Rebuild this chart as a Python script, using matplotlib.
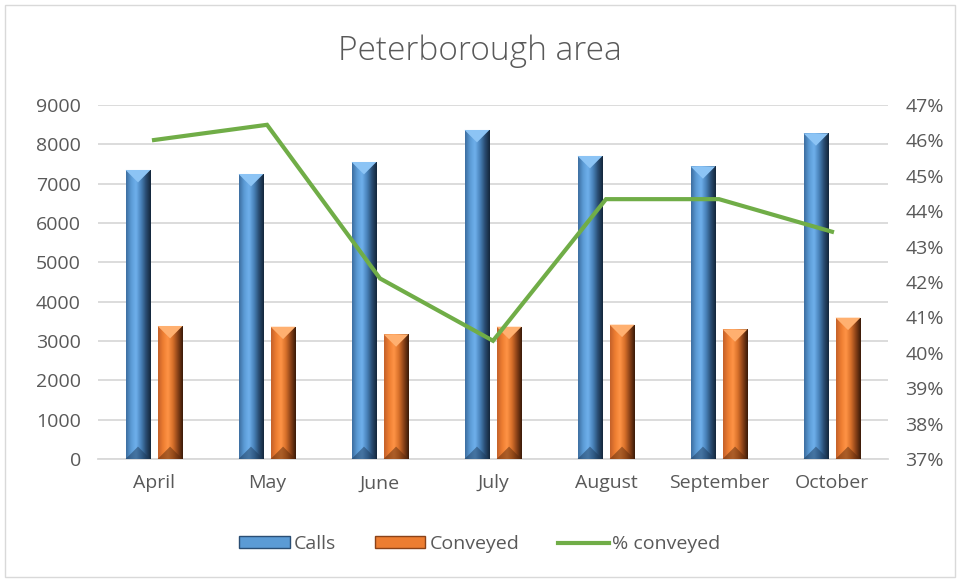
import numpy as np
import matplotlib
matplotlib.use("Agg")
import matplotlib.pyplot as plt
from matplotlib.patches import Polygon, Rectangle
from matplotlib.colors import LinearSegmentedColormap
from matplotlib.ticker import FuncFormatter

plt.rcParams['font.family'] = ['Open Sans', 'DejaVu Sans']

months = ['April', 'May', 'June', 'July', 'August', 'September', 'October']
calls = [7348, 7246, 7551, 8365, 7704, 7441, 8280]
conveyed = [3382, 3363, 3170, 3363, 3415, 3297, 3593]
pct_conveyed = [46.01, 46.44, 42.10, 40.34, 44.34, 44.34, 43.42]

left_ticks = list(range(0, 9001, 1000))
right_ticks = list(range(37, 48))

TEXT = '#595959'
GRID = '#d9d9d9'

blue_cmap = LinearSegmentedColormap.from_list(
    'blue_bevel', ['#3d6ea0', '#5b9bd5', '#6fb0ec', '#4a84bc', '#2a4e74', '#14263a'])
orange_cmap = LinearSegmentedColormap.from_list(
    'orange_bevel', ['#c4612a', '#ed7d31', '#ff9446', '#d8702a', '#8a4218', '#3a1a08'])


def bevel_bar(ax, patch, cmap, light, dark):
    """Paint gradient + top/bottom bevel facets onto a bar patch."""
    x0, y0 = patch.get_x(), patch.get_y()
    w, h = patch.get_width(), patch.get_height()
    grad = np.linspace(0, 1, 64).reshape(1, -1)
    im = ax.imshow(grad, cmap=cmap, aspect='auto', extent=(x0, x0 + w, y0, y0 + h),
                   zorder=patch.get_zorder(), interpolation='bicubic')
    im.set_clip_path(patch)
    # bevel depth in data units: roughly half the bar width in pixels
    px_w = ax.transData.transform((x0 + w, 0))[0] - ax.transData.transform((x0, 0))[0]
    px_per_unit = ax.transData.transform((0, 1))[1] - ax.transData.transform((0, 0))[1]
    d = 0.5 * px_w / px_per_unit
    top = Polygon([(x0, y0 + h), (x0 + w, y0 + h), (x0 + w / 2, y0 + h - d)],
                  closed=True, facecolor=light, edgecolor='none',
                  zorder=patch.get_zorder() + 0.1)
    bot = Polygon([(x0, y0), (x0 + w, y0), (x0 + w / 2, y0 + d)],
                  closed=True, facecolor=dark, edgecolor='none', alpha=0.5,
                  zorder=patch.get_zorder() + 0.1)
    ax.add_patch(top)
    ax.add_patch(bot)


fig = plt.figure(figsize=(9.6, 5.8), dpi=100)
fig.patch.set_facecolor('white')
fig.add_artist(Rectangle((5 / 960, 3 / 580), 950 / 960, 572 / 580, transform=fig.transFigure,
                         facecolor='none', edgecolor='#d9d9d9', linewidth=1))

ax = fig.add_axes([0.1016, 0.2086, 0.8239, 0.6104])
ax2 = ax.twinx()

x = np.arange(len(months))
width = 0.22
off = 0.142

ax.set_xlim(-0.5, len(months) - 0.5)
ax.set_ylim(0, 9000)
ax2.set_ylim(37, 47)

b1 = ax.bar(x - off, calls, width, color='#5b9bd5', zorder=3, label='Calls')
b2 = ax.bar(x + off, conveyed, width, color='#ed7d31', zorder=3, label='Conveyed')
for p in b1:
    bevel_bar(ax, p, blue_cmap, '#8cc4f5', '#1d3a5a')
for p in b2:
    bevel_bar(ax, p, orange_cmap, '#ffb070', '#5a2a0c')

line, = ax2.plot(x, pct_conveyed, color='#70ad47', linewidth=3, zorder=4,
                 label='% conveyed', solid_joinstyle='miter')

ax.set_yticks(left_ticks)
ax.set_yticklabels([str(t) for t in left_ticks])
ax2.set_yticks(right_ticks)
ax2.yaxis.set_major_formatter(FuncFormatter(lambda v, _: f'{v:.0f}%'))
ax.set_xticks(x)
ax.set_xticklabels(months)

ax.grid(axis='y', color=GRID, linewidth=1.3, zorder=0)
ax.set_axisbelow(True)
for a in (ax, ax2):
    for s in a.spines.values():
        s.set_visible(False)
    a.tick_params(length=0, labelsize=14, labelcolor=TEXT)
ax.spines['bottom'].set_visible(True)
ax.spines['bottom'].set_color(GRID)
ax.spines['bottom'].set_linewidth(1.3)
ax.tick_params(axis='x', pad=11)
ax.tick_params(axis='y', pad=12)
ax2.tick_params(axis='y', pad=12)

fig.text(0.5, 0.912, 'Peterborough area', ha='center', va='center',
         fontsize=24, color=TEXT, fontweight='light')

leg = fig.legend(handles=[b1, b2, line], labels=['Calls', 'Conveyed', '% conveyed'],
                 loc='center', bbox_to_anchor=(0.5, 0.062), ncol=3, frameon=False,
                 fontsize=14, handlelength=2.6, handleheight=0.6, columnspacing=2.0,
                 handletextpad=0.2, labelcolor=TEXT)
leg.legend_handles[0].set_edgecolor('#2a4e74')
leg.legend_handles[1].set_edgecolor('#8a4218')

fig.savefig('out.png', dpi=100, facecolor='white')
